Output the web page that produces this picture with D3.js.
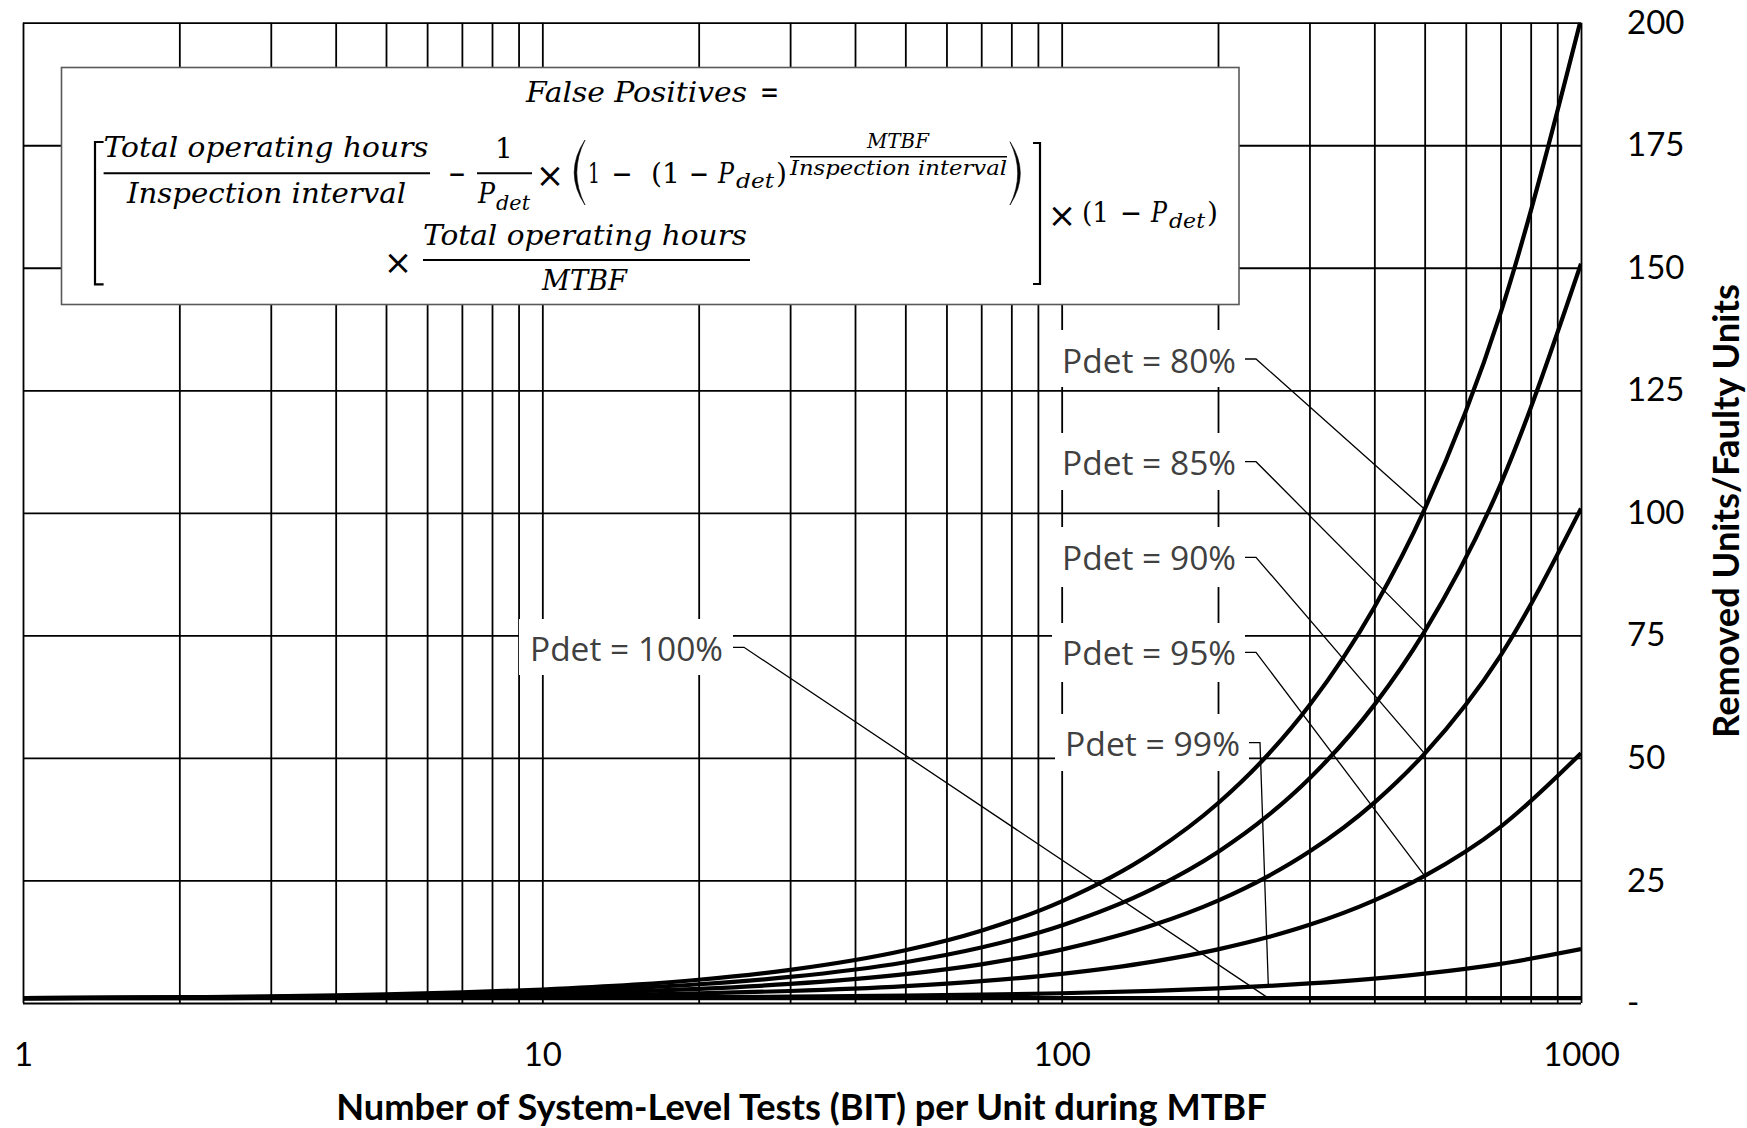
<!DOCTYPE html>
<html><head><meta charset="utf-8">
<script src="https://cdn.jsdelivr.net/npm/d3@7"></script>
<style>html,body{margin:0;padding:0;background:#fff;} svg{display:block}</style>
</head><body><svg id="c" width="1747" height="1128"></svg>
<script>
// ---------------- DATA ----------------
const nTests  = [1, 2, 3, 4, 5, 7, 10, 15, 20, 30, 50, 70, 100, 150, 200, 250, 300, 400, 500, 700, 1000];
const pdet80  = [1, 1.16, 1.35, 1.55, 1.75, 2.15, 2.75, 3.75, 4.75, 6.75, 10.75, 14.75, 20.75, 30.75, 40.75, 50.75, 60.75, 80.75, 100.75, 140.75, 200.75];
const pdet85  = [1, 1.13, 1.27, 1.42, 1.57, 1.87, 2.32, 3.07, 3.82, 5.32, 8.32, 11.32, 15.82, 23.32, 30.82, 38.32, 45.82, 60.82, 75.82, 105.82, 150.82];
const pdet90  = [1, 1.09, 1.19, 1.29, 1.39, 1.59, 1.89, 2.39, 2.89, 3.89, 5.89, 7.89, 10.89, 15.89, 20.89, 25.89, 30.89, 40.89, 50.89, 70.89, 100.89];
const pdet95  = [1, 1.05, 1.10, 1.15, 1.20, 1.30, 1.45, 1.70, 1.95, 2.45, 3.45, 4.45, 5.95, 8.45, 10.95, 13.45, 15.95, 20.95, 25.95, 35.95, 50.95];
const pdet99  = [1, 1.01, 1.02, 1.03, 1.04, 1.06, 1.09, 1.14, 1.19, 1.29, 1.49, 1.69, 1.99, 2.49, 2.99, 3.49, 3.99, 4.99, 5.99, 7.99, 10.99];
const pdet100 = [1, 1, 1, 1, 1, 1, 1, 1, 1, 1, 1, 1, 1, 1, 1, 1, 1, 1, 1, 1, 1];
const seriesNames = ['Pdet = 80%', 'Pdet = 85%', 'Pdet = 90%', 'Pdet = 95%', 'Pdet = 99%', 'Pdet = 100%'];
const labelAnchorN = [500, 500, 500, 500, 250, 250];
const xTickLabels = [1, 10, 100, 1000];
const yTickLabels = [0, 25, 50, 75, 100, 125, 150, 175, 200];
const xTitle = 'Number of System-Level Tests (BIT) per Unit during MTBF';
const yTitle = 'Removed Units/Faulty Units';

// ---------------- LAYOUT ----------------
const svg = d3.select('#c');
const plot = {left: 23, right: 1581, top: 22.7, bottom: 1003};
const x = d3.scaleLog().domain([1, 1000]).range([plot.left, plot.right]);
const y = d3.scaleLinear().domain([0, 200]).range([plot.bottom, plot.top]);
const SANS = "Lato, 'Open Sans', sans-serif";
const LABEL = "'Open Sans', 'Noto Sans', sans-serif";
const SERIF = "'DejaVu Serif', 'Liberation Serif', serif";

svg.append('rect').attr('width', 1747).attr('height', 1128).attr('fill', '#fff');

// gridlines
const gxg = svg.append('g').attr('transform', `translate(0,${plot.bottom})`)
  .call(d3.axisBottom(x).tickValues(x.ticks()).tickSize(-(plot.bottom - plot.top)).tickFormat(''));
gxg.select('.domain').remove();
gxg.selectAll('line').attr('stroke', '#000').attr('stroke-width', 1.8);

const gyg = svg.append('g').attr('transform', `translate(${plot.left},0)`)
  .call(d3.axisLeft(y).tickValues(yTickLabels).tickSize(-(plot.right - plot.left)).tickFormat(''));
gyg.select('.domain').remove();
gyg.selectAll('line').attr('stroke', '#000').attr('stroke-width', 1.8);

// curves
svg.append('clipPath').attr('id', 'pc').append('rect')
  .attr('x', plot.left).attr('y', plot.top).attr('width', plot.right - plot.left).attr('height', plot.bottom - plot.top);
const allSeries = [pdet80, pdet85, pdet90, pdet95, pdet99, pdet100];
const line = d3.line().x(d => x(d[0])).y(d => y(d[1])).curve(d3.curveMonotoneX);
svg.append('g').attr('clip-path', 'url(#pc)').selectAll('path')
  .data(allSeries.map(s => nTests.map((n, i) => [n, s[i]])))
  .join('path').attr('d', line).attr('fill', 'none').attr('stroke', '#000')
  .attr('stroke-width', 4.2).attr('stroke-linejoin', 'round');

// data labels with leaders
const labelLayout = [
  {cx: 1149,  base: 373, box: [1052, 330, 1245, 387], ly: 359,   len: 174},
  {cx: 1149,  base: 475, box: [1052, 433, 1245, 490], ly: 461.7, len: 174},
  {cx: 1149,  base: 570, box: [1052, 527, 1245, 587], ly: 557.3, len: 174},
  {cx: 1149,  base: 665, box: [1052, 623, 1245, 682], ly: 652.3, len: 174},
  {cx: 1152.5,base: 756, box: [1055, 714, 1249, 771], ly: 742.7, len: 175},
  {cx: 626.5, base: 661, box: [519, 619, 733, 675],   ly: 647.3, len: 193}
];
const lg = svg.append('g');
labelLayout.forEach((L, i) => {
  const n = labelAnchorN[i];
  const v = allSeries[i][nTests.indexOf(n)];
  const x0 = L.box[2];
  lg.append('path')
    .attr('d', `M${x0},${L.ly}H${x0 + 11}L${x(n)},${y(v)}`)
    .attr('fill', 'none').attr('stroke', '#000').attr('stroke-width', 1.3);
});
labelLayout.forEach((L, i) => {
  lg.append('rect').attr('x', L.box[0]).attr('y', L.box[1])
    .attr('width', L.box[2] - L.box[0]).attr('height', L.box[3] - L.box[1]).attr('fill', '#fff');
  lg.append('text').attr('x', L.cx).attr('y', L.base).attr('text-anchor', 'middle')
    .attr('font-family', LABEL).attr('font-size', 32).attr('fill', '#404040')
    .attr('textLength', L.len).attr('lengthAdjust', 'spacingAndGlyphs')
    .text(seriesNames[i]);
});

// formula box
const fg = svg.append('g');
fg.append('rect').attr('x', 61.5).attr('y', 67.5).attr('width', 1177.5).attr('height', 237)
  .attr('fill', '#fff').attr('stroke', '#595959').attr('stroke-width', 1.6);
function ft(px, py, s, o = {}) {
  const t = fg.append('text').attr('x', px).attr('y', py).text(s)
    .attr('font-family', o.fam || SERIF).attr('font-size', o.size || 28)
    .attr('font-style', o.up ? 'normal' : 'italic')
    .attr('text-anchor', o.anchor || 'start').attr('fill', '#000');
  if (o.len) t.attr('textLength', o.len).attr('lengthAdjust', 'spacingAndGlyphs');
  return t;
}
function bar(x1, x2, yy, w) {
  fg.append('line').attr('x1', x1).attr('x2', x2).attr('y1', yy).attr('y2', yy)
    .attr('stroke', '#000').attr('stroke-width', w || 2);
}
function pth(d, w) {
  fg.append('path').attr('d', d).attr('fill', 'none').attr('stroke', '#000').attr('stroke-width', w || 2.2);
}
function paren(xe, xm, y1, y2, dir) {
  const ym = (y1 + y2) / 2, t = 2.6 * dir;
  fg.append('path')
    .attr('d', `M${xe},${y1}Q${xm - t},${ym} ${xe},${y2}Q${xm + t},${ym} ${xe},${y1}Z`)
    .attr('fill', '#000').attr('stroke', '#000').attr('stroke-width', 0.6);
}
const OP = {up: true, anchor: 'middle', fam: "'DejaVu Sans', sans-serif", size: 30};
const TIMES = {up: true, anchor: 'middle', fam: "'DejaVu Sans', sans-serif", size: 34};
ft(526, 101.7, 'False Positives', {len: 221});
ft(769.5, 101.7, '=', Object.assign({}, OP, {len: 19}));
pth('M103.6,142H95V284.3H103.6');
ft(103.6, 156.7, 'Total operating hours', {len: 325});
bar(103.6, 430, 173.3);
ft(127, 203, 'Inspection interval', {len: 279});
ft(457, 183.5, '\u2212', Object.assign({}, OP, {len: 18}));
ft(504, 158, '1', {up: true, anchor: 'middle'});
bar(477, 532, 173.3);
ft(478, 203, 'P', {len: 17});
ft(496, 210, 'det', {size: 20, len: 34});
ft(550, 187, '\u00d7', TIMES);
paren(585, 566, 140, 205, -1);
ft(588, 183.3, '1', {up: true, len: 12});
ft(622, 184, '\u2212', Object.assign({}, OP, {len: 21}));
ft(651, 183.3, '(1', {up: true, len: 29});
ft(699, 184, '\u2212', Object.assign({}, OP, {len: 20}));
ft(718, 183.3, 'P', {len: 16});
ft(736, 188.3, 'det', {size: 20, len: 38});
ft(776, 183.3, ')', {up: true, len: 11});
ft(898, 148, 'MTBF', {size: 20, anchor: 'middle', len: 62});
bar(790, 1007, 156.7, 1.4);
ft(790, 175, 'Inspection interval', {size: 20, len: 217});
paren(1010, 1028, 141.7, 205, 1);
pth('M1033,143H1040V284H1033');
ft(1062, 227, '\u00d7', TIMES);
ft(1082, 221.7, '(1', {up: true, len: 27});
ft(1131, 223, '\u2212', Object.assign({}, OP, {len: 22}));
ft(1151, 221.7, 'P', {len: 16});
ft(1169, 228, 'det', {size: 20, len: 36});
ft(1207, 221.7, ')', {up: true, len: 11});
ft(398, 274, '\u00d7', TIMES);
ft(423, 245, 'Total operating hours', {len: 324});
bar(423, 750, 260);
ft(584.5, 290, 'MTBF', {anchor: 'middle', len: 85});

// tick labels
const ax = svg.append('g').attr('transform', `translate(0,${plot.bottom})`)
  .call(d3.axisBottom(x).tickValues(xTickLabels).tickSize(0).tickPadding(40).tickFormat(d3.format('d')));
ax.select('.domain').remove();
ax.selectAll('text').attr('font-family', SANS).attr('font-size', 33).attr('fill', '#000');

const ay = svg.append('g').attr('transform', `translate(${plot.right},0)`)
  .call(d3.axisRight(y).tickValues(yTickLabels).tickSize(0).tickPadding(46).tickFormat(d => d === 0 ? '-' : d));
ay.select('.domain').remove();
ay.selectAll('text').attr('font-family', SANS).attr('font-size', 33).attr('fill', '#000');

// axis titles
function fitSize(t, w) {
  const l = t.node().getComputedTextLength();
  t.attr('font-size', parseFloat(t.attr('font-size')) * w / l);
}
const xt = svg.append('text').attr('x', 801.5).attr('y', 1120).attr('text-anchor', 'middle')
  .attr('font-family', SANS).attr('font-weight', 'bold').attr('font-size', 33).attr('fill', '#000').text(xTitle);
fitSize(xt, 931);
const yt = svg.append('text').attr('transform', 'translate(1739,511) rotate(-90)').attr('text-anchor', 'middle')
  .attr('font-family', SANS).attr('font-weight', 'bold').attr('font-size', 33).attr('fill', '#000').text(yTitle);
fitSize(yt, 454);
</script></body></html>
